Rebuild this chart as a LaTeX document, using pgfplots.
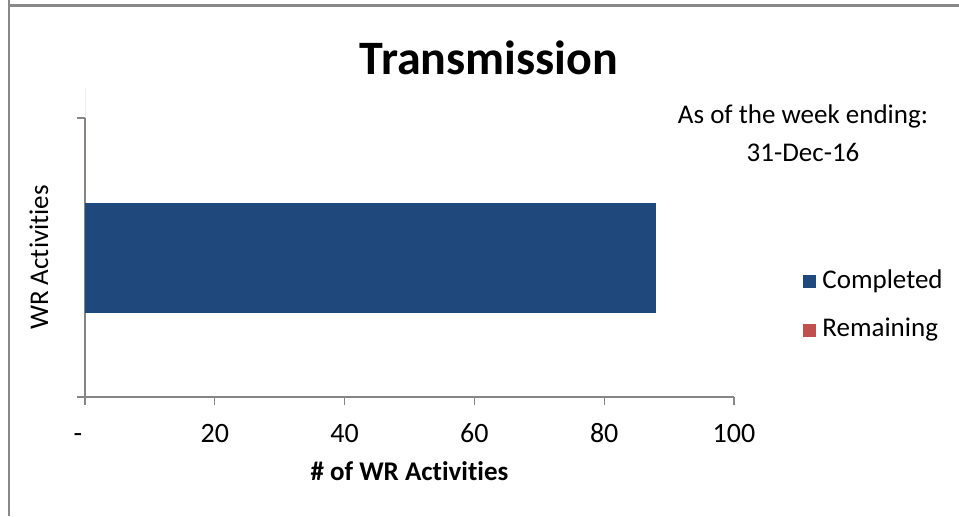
\documentclass[border=0pt]{standalone}
\usepackage{pgfplots}
\pgfplotsset{compat=1.18}
\usepackage{fontspec}
\setmainfont{Carlito}[Ligatures=NoCommon]
\definecolor{barblue}{HTML}{1F497D}
\definecolor{remred}{HTML}{C0504D}
\definecolor{axisgray}{HTML}{868686}
\definecolor{framegray}{HTML}{898989}
\begin{document}
\begin{tikzpicture}[x=1pt,y=1pt]
% frame (top and left edges visible)
\draw[framegray,line width=1.4pt] (4.5,258) -- (4.5,0);
\draw[framegray,line width=1.4pt] (4.5,255.2) -- (479.5,255.2);
\begin{axis}[
  at={(42.5pt,59.5pt)}, anchor=south west,
  scale only axis, width=324.5pt, height=139.5pt,
  xbar, bar width=55pt,
  xmin=0, xmax=100, ymin=0, ymax=2,
  axis x line*=bottom, axis y line*=left,
  axis line style={axisgray, line width=0.6pt},
  xtick={0,20,40,60,80,100},
  xticklabels={{\kern-7pt-},20,40,60,80,100},
  ytick={0,2}, yticklabels={},
  tick style={axisgray, line width=0.6pt},
  major tick length=4pt,
  tick align=outside,
  xticklabel style={font=\fontsize{14}{14}\selectfont, color=black, text height=10pt, text depth=0pt, yshift=-5pt},
  xlabel={\textbf{\# of WR Activities}},
  xlabel style={font=\fontsize{13.5}{14}\selectfont, yshift=-3pt},
  ylabel={WR Activities},
  ylabel style={font=\fontsize{13.5}{14}\selectfont, yshift=4pt},
  clip=false,
]
\addplot[draw=none, fill=barblue] coordinates {(88,1)};
\addplot[draw=none, fill=remred, forget plot] coordinates {(0,1)};
\end{axis}
% title
\node[font=\bfseries\fontsize{24}{25}\selectfont] at (244.5,229) {Transmission};
% as-of text
\node[font=\fontsize{13.5}{14}\selectfont] at (401.5,200) {As of the week ending:};
\node[font=\fontsize{13.5}{14}\selectfont] at (401.5,182) {31-Dec-16};
% legend
\fill[barblue] (401.5,114) rectangle (408,120.5);
\node[anchor=west, font=\fontsize{13.5}{14}\selectfont, inner sep=0pt] at (411,117.5) {Completed};
\fill[remred] (401.5,89.5) rectangle (408,96);
\node[anchor=west, font=\fontsize{13.5}{14}\selectfont, inner sep=0pt] at (411,93) {Remaining};
\pgfresetboundingbox
\path (0,0) rectangle (479.5,258);
\end{tikzpicture}
\end{document}
